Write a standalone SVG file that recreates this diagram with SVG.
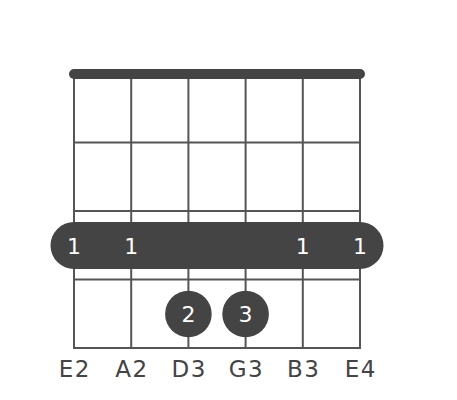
<svg xmlns="http://www.w3.org/2000/svg" width="457" height="400" viewBox="0 0 457 400">
<style>
.s{stroke:#555;stroke-width:2;fill:none}
.d{fill:#444}
.f{font-family:"DejaVu Sans",Verdana,sans-serif;font-size:22px;fill:#fff;text-anchor:middle}
.l{font-family:"DejaVu Sans",Verdana,sans-serif;font-size:23px;letter-spacing:1.5px;fill:#444;text-anchor:middle}
</style>
<rect width="457" height="400" fill="#fff"/>
<g id="grid">
<line class="s" x1="74" y1="74" x2="74" y2="348"/>
<line class="s" x1="131.2" y1="74" x2="131.2" y2="348"/>
<line class="s" x1="188.4" y1="74" x2="188.4" y2="348"/>
<line class="s" x1="245.6" y1="74" x2="245.6" y2="348"/>
<line class="s" x1="302.8" y1="74" x2="302.8" y2="348"/>
<line class="s" x1="360" y1="74" x2="360" y2="348"/>
<line class="s" x1="73" y1="142.5" x2="361" y2="142.5"/>
<line class="s" x1="73" y1="211" x2="361" y2="211"/>
<line class="s" x1="73" y1="279.5" x2="361" y2="279.5"/>
<line class="s" x1="73" y1="348" x2="361" y2="348"/>
</g>
<g id="nut"><line x1="74" y1="74" x2="360" y2="74" stroke="#444" stroke-width="10" stroke-linecap="round"/></g>
<g id="barre">
<rect class="d" x="50.5" y="222" width="333" height="47" rx="23.5"/>
<text class="f" x="74" y="254">1</text>
<text class="f" x="131.2" y="254">1</text>
<text class="f" x="302.8" y="254">1</text>
<text class="f" x="360" y="254">1</text>
</g>
<g id="finger2"><circle class="d" cx="188.4" cy="314" r="23.3"/><text class="f" x="188.4" y="322">2</text></g>
<g id="finger3"><circle class="d" cx="245.6" cy="314" r="23.3"/><text class="f" x="245.6" y="322">3</text></g>
<g id="labels">
<text class="l" x="74.8" y="377">E2</text>
<text class="l" x="132" y="377">A2</text>
<text class="l" x="189.2" y="377">D3</text>
<text class="l" x="246.4" y="377">G3</text>
<text class="l" x="303.6" y="377">B3</text>
<text class="l" x="360.8" y="377">E4</text>
</g>
</svg>
